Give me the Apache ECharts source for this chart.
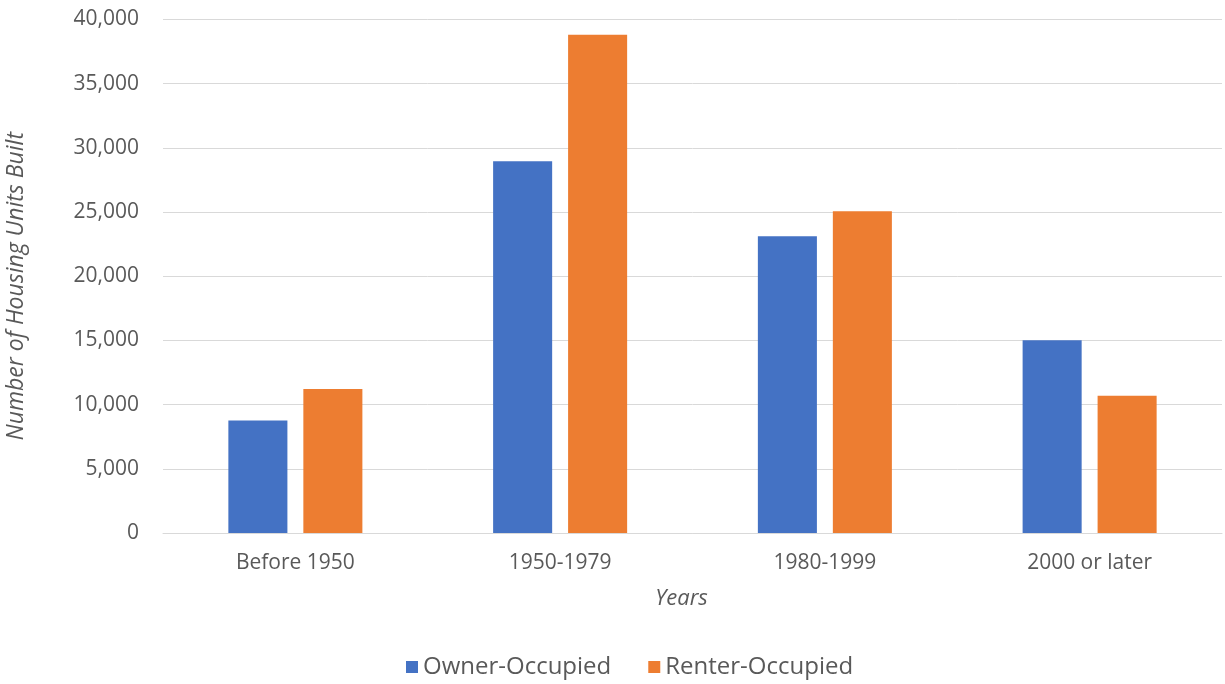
<!DOCTYPE html>
<html>
<head>
<meta charset="utf-8">
<script src="https://cdn.jsdelivr.net/npm/echarts@6/dist/echarts.min.js"></script>
<style>
    html, body { margin: 0; padding: 0; background: #fff; }
    #chart { width: 1225px; height: 684px; }
</style>
</head>
<body>
<div id="chart"></div>
<script>
var categories = ['Before 1950', '1950-1979', '1980-1999', '2000 or later'];
var ownerOccupied = [8770, 28960, 23120, 15020];
var renterOccupied = [11210, 38820, 25070, 10690];
var seriesNames = ['Owner-Occupied', 'Renter-Occupied'];

var font = '"Open Sans", "Noto Sans", sans-serif';
var textColor = '#595959';

var chart = echarts.init(document.getElementById('chart'));
var option = {
    animation: false,
    textStyle: { fontFamily: font },
    grid: { left: 163, right: 3, top: 19.5, bottom: 151, outerBoundsMode: 'none', containLabel: false },
    legend: {
        bottom: 5,
        left: 406,
        padding: 0,
        itemWidth: 12,
        itemHeight: 12,
        itemGap: 37,
        icon: 'rect',
        textStyle: { fontFamily: font, fontSize: 24, color: textColor },
        data: seriesNames
    },
    xAxis: {
        type: 'category',
        data: categories,
        name: 'Years',
        nameLocation: 'middle',
        nameGap: 55,
        nameTextStyle: { fontFamily: font, fontSize: 22, fontStyle: 'italic', color: textColor, padding: [0, 22, 0, 0] },
        axisLine: { lineStyle: { color: '#d9d9d9', width: 1 } },
        axisTick: { show: false },
        axisLabel: { fontFamily: font, fontSize: 21, color: textColor, margin: 20 }
    },
    yAxis: {
        type: 'value',
        min: 0,
        max: 40000,
        interval: 5000,
        name: 'Number of Housing Units Built',
        nameLocation: 'middle',
        nameGap: 135,
        nameTextStyle: { fontFamily: font, fontSize: 23, fontStyle: 'italic', color: textColor, padding: [0, 20, 0, 0] },
        axisLine: { show: false },
        axisTick: { show: false },
        splitLine: { lineStyle: { color: '#d9d9d9', width: 1 } },
        axisLabel: {
            fontFamily: font, fontSize: 21, color: textColor, margin: 24,
            formatter: function (v) { return v.toLocaleString('en-US'); }
        }
    },
    series: [
        {
            name: seriesNames[0],
            type: 'bar',
            data: ownerOccupied,
            barWidth: '22.3%',
            barGap: '27%',
            itemStyle: { color: '#4472C4' }
        },
        {
            name: seriesNames[1],
            type: 'bar',
            data: renterOccupied,
            barWidth: '22.3%',
            barGap: '27%',
            itemStyle: { color: '#ED7D31' }
        }
    ]
};
chart.setOption(option);
</script>
</body>
</html>
